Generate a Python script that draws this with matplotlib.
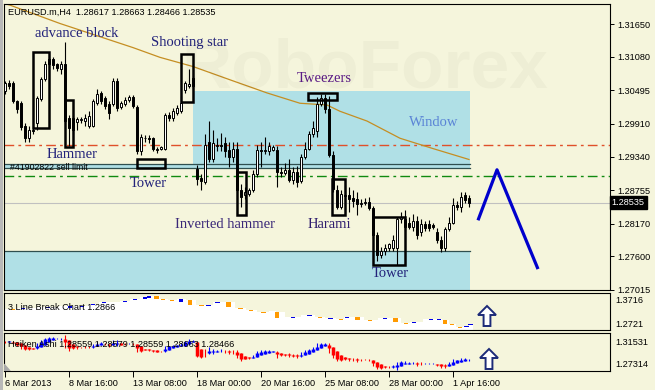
'''
    EURUSD.m H4 - свечные модели (6 Mar - 2 Apr 2013)
'''
import numpy as np
import matplotlib
matplotlib.use('Agg')
import matplotlib.pyplot as plt
from matplotlib.patches import Rectangle, Polygon
from matplotlib.transforms import blended_transform_factory

W, H = 655, 390
BG = '#F5F5DC'

'''
    Данные: свечи H4, индекс 0 = 6 Mar 2013 00:00
'''
opens = [
    1.3048, 1.3063, 1.3063, 1.3031, 1.3027, 1.2987, 1.2966, 1.2981, 1.2992, 1.3034,
    1.3070, 1.3105, 1.3105, 1.3096, 1.3087, 1.3096, 1.3001, 1.3001, 1.2994, 1.2997,
    1.2996, 1.2987, 1.2987, 1.3027, 1.3045, 1.3036, 1.3026, 1.3026, 1.3066, 1.3020,
    1.3026, 1.3033, 1.3038, 1.3020, 1.2943, 1.2966, 1.2966, 1.2966, 1.2946, 1.2948,
    1.2948, 1.3006, 1.3001, 1.3010, 1.3013, 1.3050, 1.3057, 1.3071, 1.2913, 1.2897,
    1.2890, 1.2960, 1.2930, 1.2953, 1.2955, 1.2957, 1.2945, 1.2934, 1.2948, 1.2876,
    1.2867, 1.2869, 1.2876, 1.2904, 1.2946, 1.2943, 1.2943, 1.2946, 1.2945, 1.2907,
    1.2906, 1.2911, 1.2893, 1.2907, 1.2892, 1.2934, 1.2948, 1.2973, 1.2978, 1.3026,
    1.3036, 1.3017, 1.2937, 1.2876, 1.2846, 1.2867, 1.2867, 1.2862, 1.2860, 1.2851,
    1.2853, 1.2855, 1.2844, 1.2797, 1.2763, 1.2770, 1.2775, 1.2775, 1.2775, 1.2825,
    1.2826, 1.2819, 1.2811, 1.2821, 1.2802, 1.2816, 1.2816, 1.2814, 1.2802, 1.2789,
    1.2775, 1.2807, 1.2819, 1.2849, 1.2846, 1.2867, 1.28617]
highs = [
    1.3066, 1.3068, 1.3066, 1.3033, 1.3031, 1.2992, 1.2987, 1.2985, 1.3040, 1.3073,
    1.3101, 1.3107, 1.3107, 1.3098, 1.3101, 1.3133, 1.3006, 1.3004, 1.3003, 1.3003,
    1.3008, 1.3013, 1.3034, 1.3052, 1.3048, 1.3040, 1.3031, 1.3071, 1.3071, 1.3031,
    1.3038, 1.3041, 1.3041, 1.3024, 1.2973, 1.2971, 1.2971, 1.2969, 1.2950, 1.2953,
    1.3010, 1.3011, 1.3019, 1.3024, 1.3040, 1.3066, 1.3087, 1.3075, 1.2920, 1.2904,
    1.2973, 1.2996, 1.2981, 1.2967, 1.2976, 1.2969, 1.2960, 1.2960, 1.2960, 1.2886,
    1.2881, 1.2879, 1.2911, 1.2955, 1.2960, 1.2969, 1.2960, 1.2955, 1.2952, 1.2916,
    1.2922, 1.2929, 1.2916, 1.2918, 1.2939, 1.2960, 1.2978, 1.2996, 1.3038, 1.3043,
    1.3043, 1.3040, 1.2943, 1.2885, 1.2876, 1.2885, 1.2881, 1.2876, 1.2872, 1.2860,
    1.2862, 1.2863, 1.2848, 1.2802, 1.2777, 1.2781, 1.2784, 1.2798, 1.2828, 1.2837,
    1.2841, 1.2828, 1.2834, 1.2830, 1.2826, 1.2821, 1.2823, 1.2819, 1.2809, 1.2795,
    1.2811, 1.2828, 1.2862, 1.2856, 1.2872, 1.2872, 1.28663]
lows = [
    1.3043, 1.3052, 1.3027, 1.3010, 1.2981, 1.2960, 1.2960, 1.2974, 1.2981, 1.3031,
    1.3066, 1.3091, 1.3087, 1.3084, 1.3078, 1.2992, 1.2952, 1.2974, 1.2981, 1.2992,
    1.2987, 1.2983, 1.2985, 1.3024, 1.3026, 1.3017, 1.2999, 1.3022, 1.3013, 1.3017,
    1.3022, 1.3029, 1.3019, 1.2939, 1.2937, 1.2960, 1.2957, 1.2943, 1.2941, 1.2945,
    1.2946, 1.2996, 1.2996, 1.3006, 1.3010, 1.3045, 1.3054, 1.3052, 1.2885, 1.2876,
    1.2886, 1.2925, 1.2925, 1.2943, 1.2943, 1.2934, 1.2916, 1.2925, 1.2872, 1.2846,
    1.2860, 1.2865, 1.2872, 1.2899, 1.2916, 1.2939, 1.2937, 1.2943, 1.2881, 1.2899,
    1.2902, 1.2890, 1.2886, 1.2881, 1.2888, 1.2930, 1.2945, 1.2969, 1.2969, 1.3022,
    1.3010, 1.2934, 1.2872, 1.2842, 1.2842, 1.2855, 1.2837, 1.2846, 1.2832, 1.2846,
    1.2849, 1.2841, 1.2791, 1.2752, 1.2758, 1.2763, 1.2770, 1.2770, 1.2745, 1.2819,
    1.2805, 1.2807, 1.2805, 1.2791, 1.2795, 1.2804, 1.2805, 1.2807, 1.2784, 1.2767,
    1.2770, 1.2804, 1.2816, 1.2841, 1.2837, 1.2853, 1.28466]
closes = [
    1.3063, 1.3057, 1.3031, 1.3017, 1.2985, 1.2966, 1.2981, 1.2978, 1.3036, 1.3070,
    1.3096, 1.3096, 1.3093, 1.3089, 1.3096, 1.2996, 1.2983, 1.2981, 1.2999, 1.2999,
    1.3001, 1.3004, 1.3031, 1.3043, 1.3031, 1.3022, 1.3010, 1.3066, 1.3019, 1.3027,
    1.3033, 1.3038, 1.3022, 1.2943, 1.2969, 1.2967, 1.2964, 1.2948, 1.2948, 1.2950,
    1.3006, 1.3001, 1.3013, 1.3019, 1.3027, 1.3063, 1.3061, 1.3057, 1.2895, 1.2892,
    1.2955, 1.2930, 1.2957, 1.2955, 1.2953, 1.2943, 1.2934, 1.2948, 1.2876, 1.2863,
    1.2872, 1.2876, 1.2904, 1.2946, 1.2943, 1.2946, 1.2952, 1.2950, 1.2907, 1.2906,
    1.2911, 1.2893, 1.2907, 1.2890, 1.2934, 1.2948, 1.2973, 1.2983, 1.3026, 1.3036,
    1.3017, 1.2937, 1.2878, 1.2846, 1.2869, 1.2865, 1.2860, 1.2856, 1.2851, 1.2853,
    1.2855, 1.2844, 1.2797, 1.2763, 1.2770, 1.2775, 1.2781, 1.2789, 1.2825, 1.2828,
    1.2811, 1.2812, 1.2821, 1.2797, 1.2816, 1.2809, 1.2809, 1.2812, 1.2789, 1.2775,
    1.2807, 1.2819, 1.2849, 1.2846, 1.2863, 1.2858, 1.28535]

# скользящая средняя
ma_bar = [-0.25, 1.25, 13.75, 32, 38.75, 47, 57, 65.5, 73.75, 80.5, 83.75, 90.5, 98.75, 107, 116]
ma_val = [1.3201, 1.3198, 1.3166, 1.3124, 1.3107, 1.3091, 1.3066, 1.3045, 1.3027, 1.3024,
          1.3013, 1.2996, 1.2966, 1.2948, 1.2929]

# уровни
sell_limit_hi = 1.2921
sell_limit_lo = 1.2914
red_level = 1.2955
green_level = 1.2900
last_price = 1.28535
window_zone = (47, 116.25, 1.2921, 1.3048)
support_zone_top = 1.2770
zone_end = 116.25

# прогноз (зигзаг)
forecast_bar = [118.25, 123, 133.25]
forecast_price = [1.2823, 1.2911, 1.2738]

# 3 Line Break
lb_bar = [2, 4.5, 10.75, 16.25, 19.25, 22, 24.75, 27.5, 30, 32.5,
          35, 36, 37.9, 39.5, 41.75, 44, 46.25, 49.1, 50.9, 53.1,
          55.9, 58.9, 61.5, 64.6, 67.25, 68, 72, 76.15, 78.75, 81.4,
          84, 85.5, 88.2, 91.25, 95, 97.6, 100.25, 102.25, 106.5, 108.5,
          110, 111.75, 113.75, 115.4, 116.4]
lb_hi = [1.3299, 1.3326, 1.3340, 1.3353, 1.3366, 1.3407, 1.3461, 1.3487, 1.3514, 1.3568,
         1.3595, 1.3635, 1.3635, 1.3568, 1.3528, 1.3555, 1.3528, 1.3380, 1.3380, 1.3461,
         1.3474, 1.3313, 1.3272, 1.3205, 1.3245, 1.3205, 1.3065, 1.3130, 1.3065, 1.3038,
         1.3011, 1.3065, 1.3071, 1.2977, 1.3038, 1.3044, 1.2904, 1.2923, 1.3022, 1.3022,
         1.2990, 1.2877, 1.2815, 1.2842, 1.2877]
lb_lo = [1.3272, 1.3299, 1.3313, 1.3326, 1.3340, 1.3380, 1.3434, 1.3461, 1.3487, 1.3541,
         1.3568, 1.3582, 1.3555, 1.3541, 1.3501, 1.3474, 1.3393, 1.3353, 1.3353, 1.3434,
         1.3340, 1.3286, 1.3245, 1.3178, 1.3219, 1.3044, 1.3038, 1.3103, 1.3038, 1.3011,
         1.2985, 1.3038, 1.2979, 1.2950, 1.3011, 1.2936, 1.2877, 1.2896, 1.2995, 1.2995,
         1.2890, 1.2850, 1.2788, 1.2815, 1.2850]
lb_up = [0, 1, 1, 1, 1, 1, 1, 1, 1, 1,
         1, 1, 0, 0, 0, 1, 0, 0, 1, 1,
         0, 0, 0, 0, 1, 0, 1, 1, 0, 1,
         0, 1, 0, 0, 1, 0, 0, 1, 1, 1,
         0, 0, 0, 1, 1]

price_ticks = [1.31650, 1.31080, 1.30495, 1.29910, 1.29340, 1.28755, 1.28170, 1.27600, 1.27015]
tick_bars = [0, 16, 32, 48, 64, 80, 96, 112]
tick_labels = ['6 Mar 2013', '8 Mar 16:00', '13 Mar 08:00', '18 Mar 00:00',
               '20 Mar 16:00', '25 Mar 08:00', '28 Mar 00:00', '1 Apr 16:00']

# свечные модели: подпись (бар, цена) и рамка (бар от, бар до, цена низ, цена верх)
patterns = [
    ('advance block', 17.9, 1.3149, '#22227A', (7, 11, 1.2983, 1.3117)),
    ('Shooting star', 46, 1.3133, '#22227A', (44, 47, 1.3029, 1.3112)),
    ('Tweezers', 79.9, 1.3070, '#5B1A86', (75.75, 83, 1.3033, 1.3045)),
    ('Hammer', 16.9, 1.2937, '#22227A', (15, 17, 1.2950, 1.3033)),
    ('Tower', 35.75, 1.2888, '#22227A', (33, 40, 1.2914, 1.2930)),
    ('Inverted hammer', 55, 1.2816, '#3A2878', (58, 60.25, 1.2832, 1.2907)),
    ('Harami', 81, 1.2816, '#2E1C6E', (81.75, 85, 1.2832, 1.2895)),
    ('Tower', 96.25, 1.2731, '#22227A', (92, 100, 1.2745, 1.2828)),
]

SERIF = 'Liberation Serif'
SANS = 'Liberation Sans'
AX_FS = 6.6


def frame(x0, y0, x1, y1):
    return [x0 / W, 1 - y1 / H, (x1 - x0) / W, (y1 - y0) / H]


def style_panel(a):
    a.set_facecolor(BG)
    a.set_xlim(-0.25, 151.25)
    for s in a.spines.values():
        s.set_color('black')
        s.set_linewidth(0.8)
    a.set_yticks([])


def up_arrow(a, x0, x1, ytop, ybot, ptop, pbot):
    # пустая стрелка вверх, координаты в пикселях панели
    cx = (x0 + x1) / 2
    hw = (x1 - x0) / 2
    sw = hw * 0.38
    hy = ytop + (ybot - ytop) * 0.45
    pts = [(cx, ytop), (cx + hw, hy), (cx + sw, hy), (cx + sw, ybot),
           (cx - sw, ybot), (cx - sw, hy), (cx - hw, hy)]
    pts = [((px - 4) / 606, (pbot - py) / (pbot - ptop)) for px, py in pts]
    a.add_patch(Polygon(pts, closed=True, transform=a.transAxes, facecolor='white',
                        edgecolor='#1C2A78', lw=1.4, clip_on=False, zorder=6))


fig = plt.figure(figsize=(W / 100, H / 100), dpi=100, facecolor=BG)
plt.rcParams['font.family'] = SANS

'''
    Основной график
'''
ax = fig.add_axes(frame(4, 4, 610, 290))
style_panel(ax)
ax.set_ylim(1.27180, 1.32000)

x = np.arange(len(closes))
o, h, l, c = map(np.array, (opens, highs, lows, closes))

ax.add_patch(Rectangle((window_zone[0], window_zone[2]), window_zone[1] - window_zone[0],
                       window_zone[3] - window_zone[2], color='#B0E0E6', lw=0, zorder=1))
ax.add_patch(Rectangle((-0.25, sell_limit_lo), zone_end + 0.25, sell_limit_hi - sell_limit_lo,
                       color='#B0E0E6', lw=0, zorder=1))
ax.add_patch(Rectangle((-0.25, 1.26), zone_end + 0.25, support_zone_top - 1.26,
                       color='#B0E0E6', lw=0, zorder=1))
for lev in (sell_limit_hi, sell_limit_lo, support_zone_top):
    ax.plot([-0.25, zone_end], [lev, lev], color='#2F4F4F', lw=0.9, zorder=2)

ax.axhline(red_level, color='#E0502A', lw=1.0, dashes=(7, 3, 2, 3), zorder=2)
ax.axhline(green_level, color='#108A10', lw=1.0, dashes=(7, 3, 2, 3), zorder=2)
ax.axhline(last_price, color='#C0C0C0', lw=0.8, zorder=2)

ax.plot(ma_bar, ma_val, color='#C58E22', lw=0.9, zorder=2.5)

up = c >= o
ax.vlines(x, l, h, color='black', lw=0.8, zorder=3)
ax.bar(x[up], (c - o)[up], bottom=o[up], width=0.6, color='white',
       edgecolor='black', lw=0.7, zorder=4)
ax.bar(x[~up], (o - c)[~up], bottom=c[~up], width=0.6, color='black',
       edgecolor='black', lw=0.7, zorder=4)

for name, lx, ly, col, (b0, b1, p0, p1) in patterns:
    ax.add_patch(Rectangle((b0, p0), b1 - b0, p1 - p0, fill=False, edgecolor='black',
                           lw=1.8, zorder=5))
    ax.text(lx, ly, name, family=SERIF, fontsize=10.5, color=col,
            ha='center', va='center', zorder=6)
ax.text(107.1, 1.2994, 'Window', family=SERIF, fontsize=10.5, color='#5A84D6',
        ha='center', va='center', zorder=6)

ax.plot(forecast_bar, forecast_price, color='#0000CC', lw=2.3, zorder=5,
        solid_capstyle='butt')

ax.text(0.007, 0.972, 'EURUSD.m,H4  1.28617 1.28663 1.28466 1.28535',
        transform=ax.transAxes, fontsize=AX_FS, va='center', zorder=6)
ax.text(0.01, 0.427, '#41902822 sell limit', transform=ax.transAxes,
        fontsize=6.3, va='center', zorder=6)

ax.set_xticks([])
ax.set_yticks(price_ticks)
ax.set_yticklabels([f'{v:.5f}' for v in price_ticks])
ax.yaxis.tick_right()
ax.tick_params(axis='y', length=3, width=0.7, labelsize=AX_FS, pad=2)
trans = blended_transform_factory(ax.transAxes, ax.transData)
ax.text(1.003, last_price, f'{last_price:.5f}', transform=trans, ha='left', va='center',
        color='white', fontsize=AX_FS, zorder=7,
        bbox=dict(boxstyle='square,pad=0.22', fc='black', ec='black'))

# водяной знак
fig.text(365 / W, 1 - 70 / H, 'RoboForex', fontsize=50, fontweight='bold',
         color='black', alpha=0.028, ha='center', va='center', zorder=0.5)

'''
    3 Line Break
'''
ax2 = fig.add_axes(frame(4, 293, 610, 330))
style_panel(ax2)
ax2.set_ylim(1.2721, 1.3716)
ax2.set_xticks([])
fx = [-0.25] + lb_bar + [lb_bar[-1] + 0.5]
fy = [lb_hi[0]] + lb_hi + [lb_hi[-1]]
ax2.fill_between(fx, fy, 1.2, step='mid', color='white', lw=0, zorder=1)
for b, hi, lo, u in zip(lb_bar, lb_hi, lb_lo, lb_up):
    ax2.add_patch(Rectangle((b - 0.6, lo), 1.2, hi - lo, lw=0, zorder=3,
                            color='#0000E6' if u else '#FF9A00'))
ax2.text(0.006, 0.6, '3 Line Break Chart 1.2866', transform=ax2.transAxes,
         fontsize=AX_FS, va='center', zorder=4)
ax2.text(1.008, 0.784, '1.3716', transform=ax2.transAxes, fontsize=AX_FS, va='center')
ax2.text(1.008, 0.162, '1.2721', transform=ax2.transAxes, fontsize=AX_FS, va='center')
up_arrow(ax2, 478, 496, 306, 326, 293, 330)

'''
    Heiken Ashi
'''
ax3 = fig.add_axes(frame(4, 333, 610, 371))
style_panel(ax3)
ax3.set_ylim(1.27314, 1.31531)
ha_c = (o + h + l + c) / 4
ha_o = np.empty_like(ha_c)
ha_o[0] = (o[0] + c[0]) / 2
for i in range(1, len(ha_c)):
    ha_o[i] = (ha_o[i - 1] + ha_c[i - 1]) / 2
ha_hi = np.maximum(h, np.maximum(ha_o, ha_c))
ha_lo = np.minimum(l, np.minimum(ha_o, ha_c))
cols = np.where(ha_c >= ha_o, '#0000FF', '#FF0000')
ax3.vlines(x, ha_lo, ha_hi, colors=cols, lw=0.8, zorder=3)
ax3.vlines(x, ha_o, ha_c, colors=cols, lw=2.5, zorder=3)
ax3.text(0.006, 0.71, 'Heiken Ashi 1.28559 1.28579 1.28559 1.28663 1.28466',
         transform=ax3.transAxes, fontsize=AX_FS, va='center', zorder=4)
ax3.text(1.008, 0.763, '1.31531', transform=ax3.transAxes, fontsize=AX_FS, va='center')
ax3.text(1.008, 0.158, '1.27314', transform=ax3.transAxes, fontsize=AX_FS, va='center')
ax3.add_patch(Polygon([(0, 0), (0, 0.18), (0.01, 0)], closed=True,
                      transform=ax3.transAxes, color='#A8A8A8', zorder=4))
up_arrow(ax3, 480, 498, 349, 369, 333, 371)

ax3.set_xticks(tick_bars)
ax3.set_xticklabels(tick_labels, ha='left')
ax3.tick_params(axis='x', length=4, width=0.7, labelsize=AX_FS, pad=2)

# серая рамка окна слева
fig.add_artist(Rectangle((0, 0), 3 / W, 1, transform=fig.transFigure,
                         color='#B8B8B8', lw=0))

fig.savefig('out.png', dpi=100, facecolor=BG)
